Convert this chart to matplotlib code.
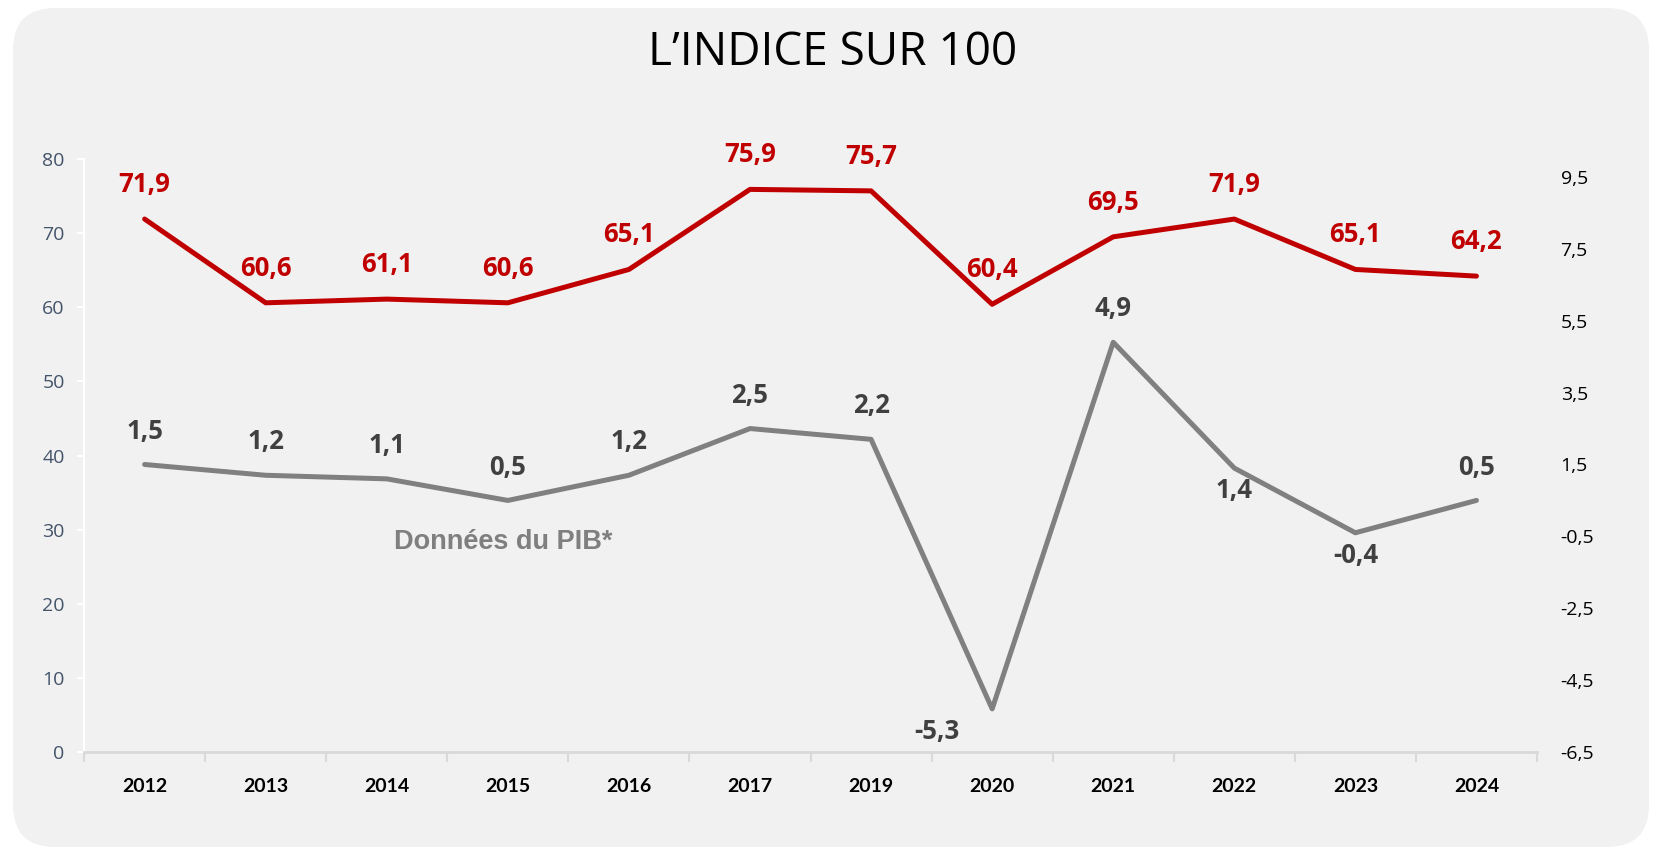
import matplotlib
matplotlib.use("Agg")
import matplotlib.pyplot as plt
from matplotlib.patches import FancyBboxPatch

years = ["2012", "2013", "2014", "2015", "2016", "2017", "2019", "2020", "2021", "2022", "2023", "2024"]
indice = [71.9, 60.6, 61.1, 60.6, 65.1, 75.9, 75.7, 60.4, 69.5, 71.9, 65.1, 64.2]
pib = [1.5, 1.2, 1.1, 0.5, 1.2, 2.5, 2.2, -5.3, 4.9, 1.4, -0.4, 0.5]
pib_below = [False, False, False, False, False, False, False, True, False, True, True, False]
left_ticks = [0, 10, 20, 30, 40, 50, 60, 70, 80]
right_ticks = [-6.5, -4.5, -2.5, -0.5, 1.5, 3.5, 5.5, 7.5, 9.5]

RED = "#C00000"
GREY = "#808080"
BG = "#F1F1F1"

def fr(v):
    return f"{v:.1f}".replace(".", ",")

fig = plt.figure(figsize=(16.55, 8.48), dpi=100, facecolor="white")
bg = FancyBboxPatch((0.13, 0.01), 16.36, 8.39, boxstyle="round,pad=0,rounding_size=0.42",
                    transform=fig.dpi_scale_trans, facecolor=BG, edgecolor="none", zorder=-10)
fig.add_artist(bg)

ax = fig.add_axes([0.0508, 0.1132, 0.8779, 0.6993])
ax.set_facecolor("none")
x = list(range(len(years)))

ax.plot(x, indice, color=RED, lw=3.6, solid_capstyle="round", solid_joinstyle="round", zorder=3)
ax.set_xlim(-0.5, len(years) - 0.5)
ax.set_ylim(0, 80)
ax.set_yticks(left_ticks)
ax.set_yticklabels([str(t) for t in left_ticks], fontsize=14, color="#44546A", family="Open Sans")
ax.tick_params(axis="y", colors="white", length=5, width=1.5, pad=9, labelcolor="#44546A")
ax.set_xticks(x)
ax.set_xticklabels(years, fontsize=14, fontweight="bold", family="Lato", color="black")
ax.set_xticks([i - 0.5 for i in range(len(years) + 1)], minor=True)
ax.tick_params(axis="x", which="major", length=0, pad=19)
ax.tick_params(axis="x", which="minor", length=7, width=1.5, color="#D9D9D9")
for s in ["top", "right"]:
    ax.spines[s].set_visible(False)
ax.spines["left"].set_color("white")
ax.spines["left"].set_linewidth(1.5)
ax.spines["bottom"].set_color("#D9D9D9")
ax.spines["bottom"].set_linewidth(2)

for xi, v in zip(x, indice):
    ax.annotate(fr(v), (xi, v), xytext=(0, 25), textcoords="offset points",
                ha="center", va="center", color=RED, fontsize=18.5, fontweight="bold",
                family="Open Sans", zorder=5)

ax2 = ax.twinx()
ax2.set_facecolor("none")
ax2.plot(x, pib, color=GREY, lw=3.6, solid_capstyle="round", solid_joinstyle="round", zorder=3)
ax2.set_ylim(-6.5, 10)
ax2.set_yticks(right_ticks)
ax2.set_yticklabels([fr(t) for t in right_ticks], fontsize=14, family="Open Sans", color="black")
ax2.tick_params(axis="y", length=0, pad=17)
for s in ax2.spines.values():
    s.set_visible(False)

for xi, v, b in zip(x, pib, pib_below):
    dx = 0
    if b and v < -5:
        dx = -40
    off = -16.5 if b else 24
    ax2.annotate(fr(v), (xi, v), xytext=(dx, off), textcoords="offset points",
                 ha="center", va="center", color="#404040", fontsize=18.5, fontweight="bold",
                 family="Open Sans", zorder=5)

ax.text(2.96, 28.3, "Données du PIB*", ha="center", va="center", color="#7F7F7F",
        fontsize=19.5, fontweight="bold", family="Liberation Sans")

fig.text(0.503, 0.937, "L\u2019INDICE SUR 100", ha="center", va="center", fontsize=33,
         family="Open Sans", color="black")

fig.savefig("out.png", dpi=100, facecolor="white")
